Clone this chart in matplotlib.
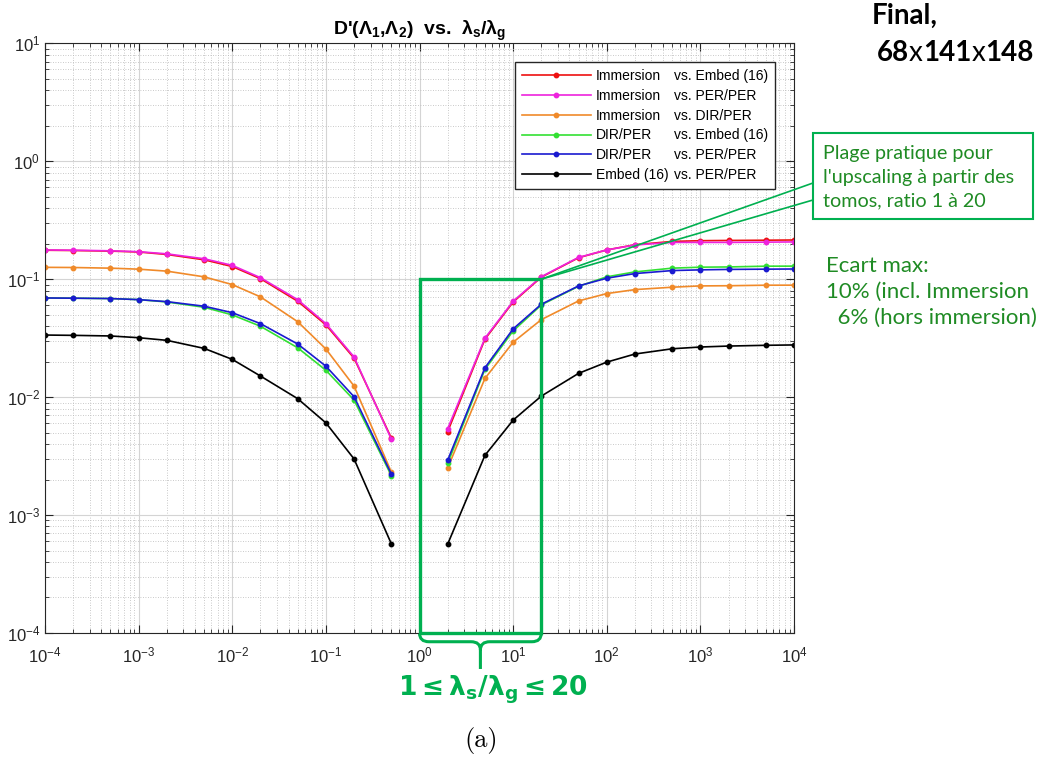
import matplotlib
matplotlib.use("Agg")
import matplotlib.pyplot as plt
import numpy as np
from matplotlib.lines import Line2D
from matplotlib.patches import Rectangle, PathPatch, ConnectionPatch
from matplotlib.path import Path
from matplotlib.transforms import blended_transform_factory
from matplotlib.offsetbox import TextArea, HPacker, AnnotationBbox

plt.rcParams['font.family'] = ['Liberation Sans', 'DejaVu Sans']

# lambda_s / lambda_g sampled on both sides of the gap
ratio_low = [1e-4, 2e-4, 5e-4, 1e-3, 2e-3, 5e-3, 1e-2, 2e-2, 5e-2, 0.1, 0.2, 0.5]
ratio_high = [2, 5, 10, 20, 50, 100, 200, 500, 1e3, 2e3, 5e3, 1e4]

imm_embed_low = [0.176, 0.175, 0.173, 0.170, 0.162, 0.146, 0.128, 0.101, 0.065, 0.041, 0.0214, 0.0045]
imm_embed_high = [0.0051, 0.031, 0.064, 0.104, 0.152, 0.177, 0.196, 0.209, 0.212, 0.213, 0.214, 0.215]
imm_per_low = [0.177, 0.176, 0.174, 0.171, 0.164, 0.149, 0.131, 0.103, 0.067, 0.042, 0.0219, 0.0044]
imm_per_high = [0.0054, 0.0316, 0.065, 0.105, 0.153, 0.177, 0.195, 0.205, 0.205, 0.205, 0.206, 0.207]
imm_dir_low = [0.126, 0.1256, 0.124, 0.1216, 0.117, 0.1047, 0.090, 0.0708, 0.0436, 0.0256, 0.0124, 0.00232]
imm_dir_high = [0.00251, 0.0144, 0.0292, 0.0454, 0.0654, 0.0755, 0.0816, 0.0855, 0.0877, 0.088, 0.0889, 0.089]
dir_embed_low = [0.0693, 0.069, 0.0685, 0.0671, 0.0641, 0.0578, 0.0498, 0.0399, 0.0262, 0.0169, 0.00944, 0.00216]
dir_embed_high = [0.00275, 0.0172, 0.0364, 0.0605, 0.087, 0.1047, 0.1153, 0.124, 0.1264, 0.127, 0.1289, 0.129]
dir_per_low = [0.0693, 0.069, 0.0685, 0.0671, 0.0645, 0.059, 0.052, 0.042, 0.0282, 0.0183, 0.01007, 0.00223]
dir_per_high = [0.00292, 0.01774, 0.0379, 0.0613, 0.0877, 0.1019, 0.1116, 0.1183, 0.12, 0.121, 0.1216, 0.122]
embed_per_low = [0.0336, 0.0334, 0.033, 0.0319, 0.0303, 0.0259, 0.0209, 0.0151, 0.0097, 0.00605, 0.00299, 0.000571]
embed_per_high = [0.000567, 0.00321, 0.00638, 0.0102, 0.0159, 0.0198, 0.0232, 0.0257, 0.0266, 0.0271, 0.0275, 0.0277]

series = [
    (imm_embed_low, imm_embed_high, '#ee1111', 'Immersion', 'vs. Embed (16)'),
    (imm_per_low, imm_per_high, '#ee22dd', 'Immersion', 'vs. PER/PER'),
    (imm_dir_low, imm_dir_high, '#f08a2a', 'Immersion', 'vs. DIR/PER'),
    (dir_embed_low, dir_embed_high, '#33e033', 'DIR/PER', 'vs. Embed (16)'),
    (dir_per_low, dir_per_high, '#1a1ad0', 'DIR/PER', 'vs. PER/PER'),
    (embed_per_low, embed_per_high, '#000000', 'Embed (16)', 'vs. PER/PER'),
]

W, H = 1043, 758
green = '#00b050'
dark_green = '#1f8b24'


def fig_xy(x, y):
    return x / W, 1 - y / H


fig = plt.figure(figsize=(W / 100, H / 100), dpi=100)
ax = fig.add_axes([45 / W, 1 - 633 / H, (794 - 45) / W, (633 - 43.3) / H])

x_all = np.concatenate([ratio_low, [np.nan], ratio_high])
handles = []
for low, high, color, _, _ in series:
    y_all = np.concatenate([low, [np.nan], high])
    h, = ax.plot(x_all, y_all, '-o', color=color, lw=1.2, ms=3.2)
    handles.append(h)

ax.set_xscale('log')
ax.set_yscale('log')
ax.set_xlim(1e-4, 1e4)
ax.set_ylim(1e-4, 1e1)
ax.set_xticks([10.0 ** k for k in range(-4, 5)])
ax.set_yticks([10.0 ** k for k in range(-4, 2)])
ax.grid(True, which='major', color='#d4d4d4', lw=0.8, ls='-')
ax.grid(True, which='minor', color='#b8b8b8', lw=0.6, ls=(0, (1, 2)))
ax.tick_params(which='both', direction='in', top=True, right=True, colors='#262626', labelsize=12)
ax.tick_params(which='major', length=6)
ax.tick_params(which='minor', length=3)
ax.tick_params(axis='x', which='major', pad=9)
for s in ax.spines.values():
    s.set_color('#262626')

ax.set_title(r"D'($\mathregular{\Lambda_1}$,$\mathregular{\Lambda_2}$)  vs.  $\mathregular{\lambda_s/\lambda_g}$",
             fontsize=14, fontweight='bold', pad=3)

# two-column legend: coloured handles + invisible spacers for the "vs." column
blank = [Line2D([], [], ls='none') for _ in series]
leg = ax.legend(handles + blank,
                [s[3] for s in series] + [s[4] for s in series],
                ncol=2, loc='upper right', fontsize=10, handlelength=5, handletextpad=0.35,
                columnspacing=-4.95, labelspacing=0.42, borderpad=0.5, borderaxespad=1.35,
                fancybox=False, framealpha=1, edgecolor='#262626')
leg.get_frame().set_linewidth(1.0)

# practical range box, 1 <= ratio <= 20
ax.add_patch(Rectangle((1, 1e-4), 19, 0.1 - 1e-4, fill=False, ec=green, lw=2.4, clip_on=False, zorder=5))

# brace under the range
lx0, lx1 = 0.0, np.log10(20)
lc = (lx0 + lx1) / 2
r = 0.1
ym, yt = -0.0148, -0.061
verts = [(lx0, 0.0), (lx0, ym), (lx0 + r, ym), (lc - r, ym), (lc, ym), (lc, ym - 0.014), (lc, yt),
         (lc, ym - 0.014), (lc, ym), (lc + r, ym), (lx1 - r, ym), (lx1, ym), (lx1, 0.0)]
codes = [Path.MOVETO, Path.CURVE3, Path.CURVE3, Path.LINETO, Path.CURVE3, Path.CURVE3, Path.LINETO,
         Path.MOVETO, Path.CURVE3, Path.CURVE3, Path.LINETO, Path.CURVE3, Path.CURVE3]
verts = [(10 ** vx, vy) for vx, vy in verts]
brace = PathPatch(Path(verts, codes), fill=False, ec=green, lw=2.2, clip_on=False,
                  transform=blended_transform_factory(ax.transData, ax.transAxes))
ax.add_patch(brace)

fig.text(*fig_xy(493, 690), r"$\mathbf{1 \leq \lambda_s/\lambda_g \leq 20}$", color=green,
         fontsize=19, ha='center', va='center')
fig.text(*fig_xy(481, 740), "(a)", family='cmr10', fontsize=19, ha='center', va='center')

# annotation box on the right
fig.add_artist(Rectangle(fig_xy(813, 219), 220 / W, 86 / H, transform=fig.transFigure,
                         fill=False, ec=green, lw=1.5))
fig.text(*fig_xy(823, 177), "Plage pratique pour\nl'upscaling à partir des\ntomos, ratio 1 à 20",
         family='Lato', fontsize=14.2, color=dark_green, ha='left', va='center', linespacing=1.49)
for yb in (183, 200):
    fig.add_artist(ConnectionPatch(xyA=(20, 0.1), coordsA='data', axesA=ax,
                                   xyB=fig_xy(813, yb), coordsB='figure fraction',
                                   color=green, lw=1.2))

fig.text(*fig_xy(826, 292), "Ecart max:\n10% (incl. Immersion\n  6% (hors immersion)",
         family='Lato', fontsize=16, color=dark_green, ha='left', va='center', linespacing=1.36)

fig.text(*fig_xy(872, 16), "Final,", family='Lato', fontweight='bold', fontsize=20,
         ha='left', va='center')
parts = []
for txt, wt in [('68', 'bold'), ('x', 'normal'), ('141', 'bold'), ('x', 'normal'), ('148', 'bold')]:
    parts.append(TextArea(txt, textprops=dict(family='Lato', fontweight=wt, fontsize=20)))
fig.add_artist(AnnotationBbox(HPacker(children=parts, sep=0, pad=0), fig_xy(877, 53),
                              xycoords='figure fraction', box_alignment=(0, 0.5),
                              frameon=False, pad=0))

fig.savefig('out.png', dpi=100)
